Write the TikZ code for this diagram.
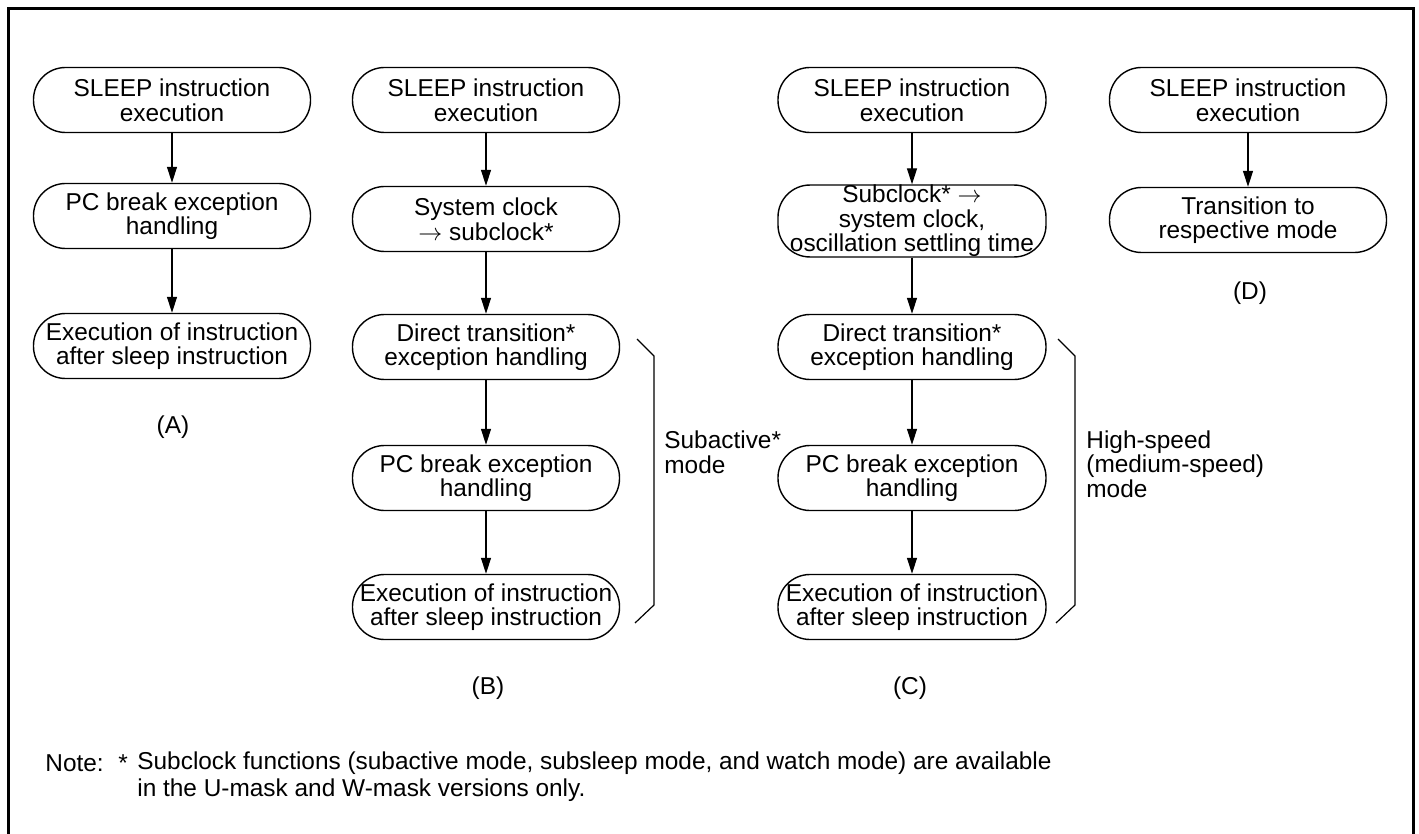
\documentclass[tikz,border=0pt]{standalone}
\usepackage{fontspec}
\setmainfont{Liberation Sans}
\usepackage{tikz}
\usetikzlibrary{arrows.meta}
\definecolor{cink}{HTML}{000000}
\newcommand{\pillfont}{\fontsize{12.2}{12.3}\selectfont}
\tikzset{>={Triangle[length=8pt,width=5pt]},
  pill/.style={draw=cink,rounded corners=16pt,line width=0.7pt,align=center,inner sep=0pt,
    minimum height=32.5pt,minimum width=#1,font=\pillfont},
  pill/.default=134pt,
  flow/.style={->,draw=cink,line width=0.6pt},
  brk/.style={draw=cink,line width=0.6pt},
  lbl/.style={font=\pillfont,inner sep=0pt,align=left}}

\begin{document}
\begin{tikzpicture}[x=0.5pt,y=-0.5pt]
\useasboundingbox (0,0) rectangle (1419,834);

% ================= frame =================
\draw[cink,line width=1.5pt] (8,845) -- (8,9) -- (1413,9) -- (1413,845);

% ================= (A) =================
\node[pill=138.5pt] (a1) at (172,100) {SLEEP instruction\\ execution};
\node[pill=138.5pt] (a2) at (172,216) {PC break exception\\ handling};
\node[pill=138.5pt] (a3) at (172,346) {Execution of instruction\\ after sleep instruction};
\draw[flow] (a1) -- (a2);
\draw[flow] (a2) -- (a3);
\node[lbl] (la) at (173,427) {(A)};

% ================= (B) =================
\node[pill=133.5pt] (b1) at (486,100) {SLEEP instruction\\ execution};
\node[pill=133.5pt] (b2) at (486,219) {System clock\\ $\rightarrow$ subclock*};
\node[pill=133.5pt] (b3) at (486,347) {Direct transition*\\ exception handling};
\node[pill=133.5pt] (b4) at (486,478) {PC break exception\\ handling};
\node[pill=133.5pt] (b5) at (486,607) {Execution of instruction\\ after sleep instruction};
\draw[flow] (b1) -- (b2);
\draw[flow] (b2) -- (b3);
\draw[flow] (b3) -- (b4);
\draw[flow] (b4) -- (b5);
\node[lbl] (lb) at (488,688) {(B)};
\draw[brk] (637,339) -- (654,356) -- (654,605) -- (635,623);
\node[lbl,anchor=west] (msub) at (664,452) {Subactive*\\ mode};

% ================= (C) =================
\node[pill] (c1) at (912,100) {SLEEP instruction\\ execution};
\node[pill] (c2) at (912,221) {Subclock* $\rightarrow$\\ system clock,\\ oscillation settling time};
\node[pill] (c3) at (912,347) {Direct transition*\\ exception handling};
\node[pill] (c4) at (912,478) {PC break exception\\ handling};
\node[pill] (c5) at (912,607) {Execution of instruction\\ after sleep instruction};
\draw[flow] (c1) -- (c2);
\draw[flow] (c2) -- (c3);
\draw[flow] (c3) -- (c4);
\draw[flow] (c4) -- (c5);
\node[lbl] (lc) at (910,688) {(C)};
\draw[brk] (1058,339) -- (1075,356) -- (1075,605) -- (1056,623);
\node[lbl,anchor=west] (mhigh) at (1086,464) {High-speed\\ (medium-speed)\\ mode};

% ================= (D) =================
\node[pill=138.5pt] (d1) at (1248,100) {SLEEP instruction\\ execution};
\node[pill=138.5pt] (d2) at (1248,220) {Transition to\\ respective mode};
\draw[flow] (d1) -- (d2);
\node[lbl] (ld) at (1250,293) {(D)};

% ================= note =================
\node[lbl,anchor=west] (nhd) at (45,763) {Note:};
\node[lbl,anchor=west] (nstar) at (118,763) {*};
\node[lbl,anchor=west] (ntxt) at (137,763) {Subclock functions (subactive mode, subsleep mode, and watch mode) are available};
\node[lbl,anchor=west] (ntxt2) at (137,790) {in the U-mask and W-mask versions only.};

\end{tikzpicture}
\end{document}
